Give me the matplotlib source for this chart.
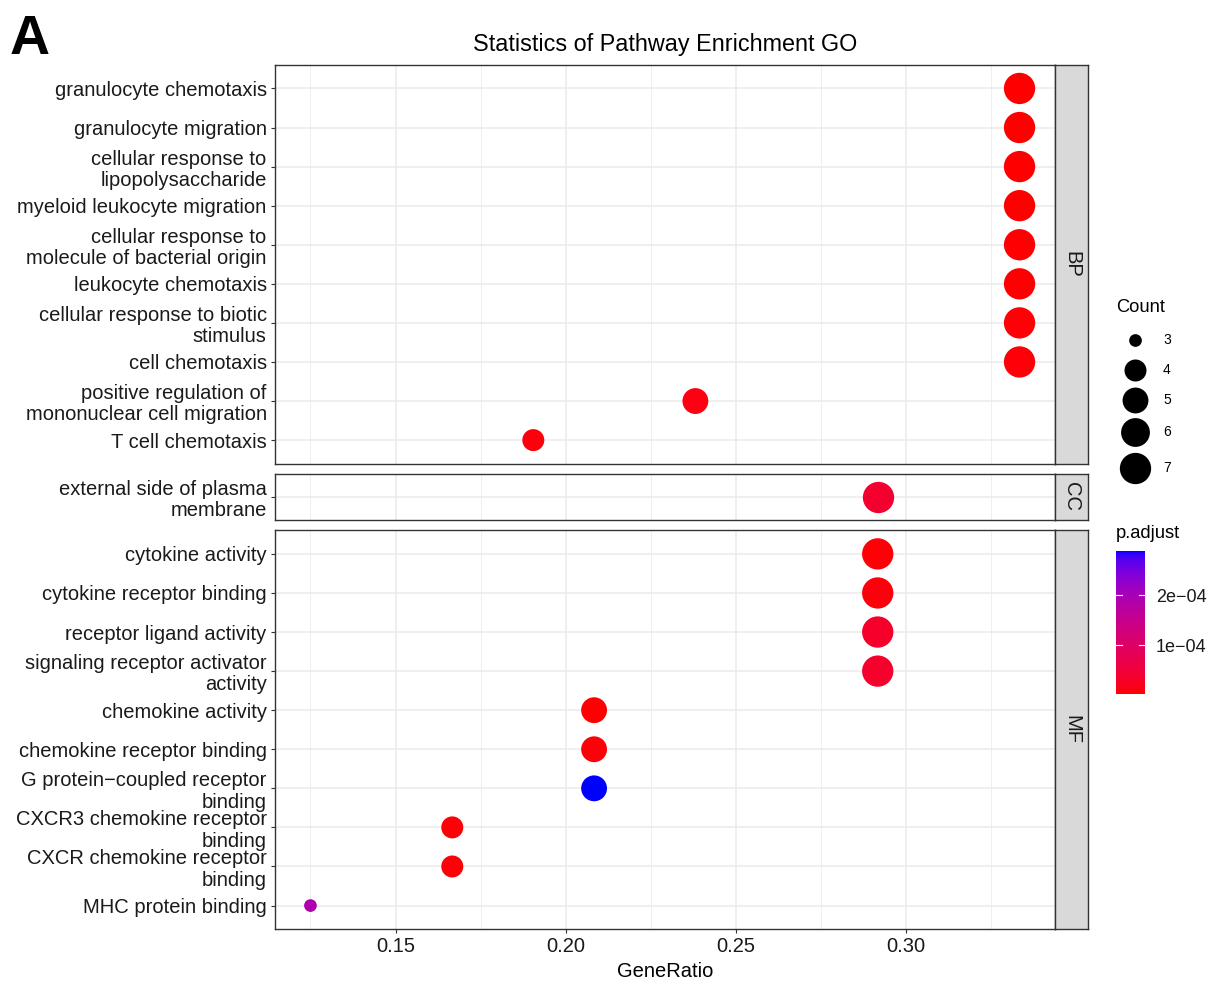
import numpy as np
import matplotlib
matplotlib.use("Agg")
import matplotlib.pyplot as plt
from matplotlib.colors import ListedColormap, Normalize
from matplotlib.colorbar import ColorbarBase

plt.rcParams["font.family"] = ["Liberation Sans", "DejaVu Sans"]

# ---------------- data ----------------
bp_terms = [
    "granulocyte chemotaxis",
    "granulocyte migration",
    "cellular response to\nlipopolysaccharide",
    "myeloid leukocyte migration",
    "cellular response to\nmolecule of bacterial origin",
    "leukocyte chemotaxis",
    "cellular response to biotic\nstimulus",
    "cell chemotaxis",
    "positive regulation of\nmononuclear cell migration",
    "T cell chemotaxis",
]
bp_ratio = ["7/21", "7/21", "7/21", "7/21", "7/21", "7/21", "7/21", "7/21", "5/21", "4/21"]
bp_count = [7, 7, 7, 7, 7, 7, 7, 7, 5, 4]
bp_padj = [2.0e-6, 2.0e-6, 3.0e-6, 3.0e-6, 4.0e-6, 4.0e-6, 5.0e-6, 6.0e-6, 1.0e-5, 8.0e-6]

cc_terms = ["external side of plasma\nmembrane"]
cc_ratio = ["7/24"]
cc_count = [7]
cc_padj = [3.5e-5]

mf_terms = [
    "cytokine activity",
    "cytokine receptor binding",
    "receptor ligand activity",
    "signaling receptor activator\nactivity",
    "chemokine activity",
    "chemokine receptor binding",
    "G protein\u2212coupled receptor\nbinding",
    "CXCR3 chemokine receptor\nbinding",
    "CXCR chemokine receptor\nbinding",
    "MHC protein binding",
]
mf_ratio = ["7/24", "7/24", "7/24", "7/24", "5/24", "5/24", "5/24", "4/24", "4/24", "3/24"]
mf_count = [7, 7, 7, 7, 5, 5, 5, 4, 4, 3]
mf_padj = [5.0e-6, 8.0e-6, 3.2e-5, 3.3e-5, 4.0e-6, 6.0e-6, 2.88e-4, 5.0e-6, 6.0e-6, 1.9e-4]

facets = [
    ("BP", bp_terms, bp_ratio, bp_count, bp_padj),
    ("CC", cc_terms, cc_ratio, cc_count, cc_padj),
    ("MF", mf_terms, mf_ratio, mf_count, mf_padj),
]

x_ticks = [0.15, 0.20, 0.25, 0.30]
count_levels = [3, 4, 5, 6, 7]
padj_ticks = [1e-4, 2e-4]


def ratio_value(s):
    num, den = s.split("/")
    return float(num) / float(den)


# ---------------- colour scale: red -> blue interpolated in CIELAB ----------------
_M = np.array([[0.4124564, 0.3575761, 0.1804375],
               [0.2126729, 0.7151522, 0.0721750],
               [0.0193339, 0.1191920, 0.9503041]])
_WHITE = np.array([0.95047, 1.0, 1.08883])


def rgb_to_lab(rgb):
    rgb = np.asarray(rgb, float)
    lin = np.where(rgb <= 0.04045, rgb / 12.92, ((rgb + 0.055) / 1.055) ** 2.4)
    xyz = _M @ lin / _WHITE
    f = np.where(xyz > (6 / 29) ** 3, np.cbrt(xyz), xyz / (3 * (6 / 29) ** 2) + 4 / 29)
    return np.array([116 * f[1] - 16, 500 * (f[0] - f[1]), 200 * (f[1] - f[2])])


def lab_to_rgb(lab):
    L, a, b = lab
    fy = (L + 16) / 116
    fx = fy + a / 500
    fz = fy - b / 200
    f = np.array([fx, fy, fz])
    xyz = np.where(f > 6 / 29, f ** 3, 3 * (6 / 29) ** 2 * (f - 4 / 29)) * _WHITE
    lin = np.linalg.solve(_M, xyz)
    lin = np.clip(lin, 0, 1)
    rgb = np.where(lin <= 0.0031308, 12.92 * lin, 1.055 * lin ** (1 / 2.4) - 0.055)
    return np.clip(rgb, 0, 1)


lab_lo = rgb_to_lab([1, 0, 0])
lab_hi = rgb_to_lab([0, 0, 1])
cmap = ListedColormap([lab_to_rgb(lab_lo + (lab_hi - lab_lo) * t) for t in np.linspace(0, 1, 256)])

all_padj = bp_padj + cc_padj + mf_padj
norm = Normalize(vmin=min(all_padj), vmax=max(all_padj))

all_ratio = [ratio_value(r) for r in bp_ratio + cc_ratio + mf_ratio]
xmin, xmax = min(all_ratio), max(all_ratio)
xpad = 0.05 * (xmax - xmin)


def marker_area(c):
    # diameter in pixels grows with sqrt of the rescaled count (area scale)
    lo, hi = min(count_levels), max(count_levels)
    d_px = 12.7 + 18.6 * np.sqrt((c - lo) / (hi - lo))
    return (d_px * 0.72) ** 2


# ---------------- layout ----------------
W, H = 1210, 982
fig = plt.figure(figsize=(W / 100, H / 100), dpi=100)


def px_axes(left, top, width, height):
    return fig.add_axes([left / W, 1 - (top + height) / H, width / W, height / H])


panel_left, panel_right = 275, 1055
strip_w = 33
top, bottom = 65, 929
gap = 10
units = [len(t) - 1 + 1.2 for _, t, _, _, _ in facets]
unit_px = (bottom - top - gap * (len(facets) - 1)) / sum(units)

edge = "#333333"
grid_c = "#EBEBEB"
text_c = "#1A1A1A"
fs = 14.5

y0 = top
axes = []
for i, (name, terms, ratio, count, padj) in enumerate(facets):
    h = units[i] * unit_px
    ax = px_axes(panel_left, y0, panel_right - panel_left, h)
    sax = px_axes(panel_right, y0, strip_w, h)
    y0 += h + gap
    axes.append(ax)

    n = len(terms)
    ypos = np.arange(n)
    xs = [ratio_value(r) for r in ratio]
    cols = [cmap(norm(p)) for p in padj]
    sizes = [marker_area(c) for c in count]

    ax.scatter(xs, ypos, s=sizes, c=cols, linewidths=0, zorder=3, clip_on=False)

    ax.set_xlim(xmin - xpad, xmax + xpad)
    ax.set_ylim(n - 1 + 0.6, -0.6)
    ax.set_yticks(ypos)
    ax.set_yticklabels(terms, fontsize=fs, color=text_c, linespacing=1.15)
    ax.set_xticks(x_ticks)
    ax.set_xticks([(a + b) / 2 for a, b in zip([x_ticks[0] - 0.05] + x_ticks, x_ticks + [x_ticks[-1] + 0.05])],
                  minor=True)
    ax.grid(True, which="major", color=grid_c, lw=1.1, zorder=0)
    ax.grid(True, which="minor", axis="x", color=grid_c, lw=0.55, zorder=0)
    ax.set_axisbelow(True)
    ax.tick_params(axis="y", length=3, width=0.8, color=edge, pad=3)
    ax.tick_params(axis="x", which="minor", length=0)
    if i < len(facets) - 1:
        ax.tick_params(axis="x", which="major", length=0, labelbottom=False)
    else:
        ax.tick_params(axis="x", which="major", length=3, width=0.8, color=edge, pad=3,
                       labelsize=fs, labelcolor=text_c)
        ax.set_xlabel("GeneRatio", fontsize=fs, color="black", labelpad=4)
    for sp in ax.spines.values():
        sp.set_color(edge)
        sp.set_linewidth(1.0)

    sax.set_facecolor("#D9D9D9")
    sax.set_xticks([])
    sax.set_yticks([])
    for sp in sax.spines.values():
        sp.set_color(edge)
        sp.set_linewidth(1.0)
    sax.text(0.5, 0.5, name, rotation=-90, ha="center", va="center",
             fontsize=fs, color=text_c, transform=sax.transAxes)

axes[0].set_title("Statistics of Pathway Enrichment GO", fontsize=16.8, color="black", pad=10)
fig.text(10 / W, 1 - 40 / H, "A", fontsize=40, fontweight="bold", ha="left", va="center")

# ---------------- size legend ----------------
lax = px_axes(1100, 290, 110, 200)
lax.set_xlim(1100, 1210)
lax.set_ylim(490, 290)
lax.axis("off")
lax.text(1116, 308, "Count", fontsize=13.2, ha="left", va="center")
key_y = [340, 370, 400, 432, 468]
for c, ky in zip(count_levels, key_y):
    lax.scatter([1135], [ky], s=marker_area(c), c="black", linewidths=0, clip_on=False)
    lax.text(1163, ky, str(c), fontsize=10, ha="left", va="center")

# ---------------- colour bar ----------------
fig.text(1116 / W, 1 - 534 / H, "p.adjust", fontsize=13.2, ha="left", va="center")
cax = px_axes(1116, 551, 29, 143)
cb = ColorbarBase(cax, cmap=cmap, norm=norm, orientation="vertical")
cb.outline.set_visible(False)
cb.set_ticks(padj_ticks)
cb.set_ticklabels(["1e\u221204", "2e\u221204"])
cax.tick_params(length=0, pad=8, labelsize=13, labelcolor=text_c)
for v in padj_ticks:
    cax.plot([0, 0.2], [v, v], color="white", lw=0.8)
    cax.plot([0.8, 1], [v, v], color="white", lw=0.8)
cax.set_xlim(0, 1)

fig.savefig("out.png", dpi=100)
